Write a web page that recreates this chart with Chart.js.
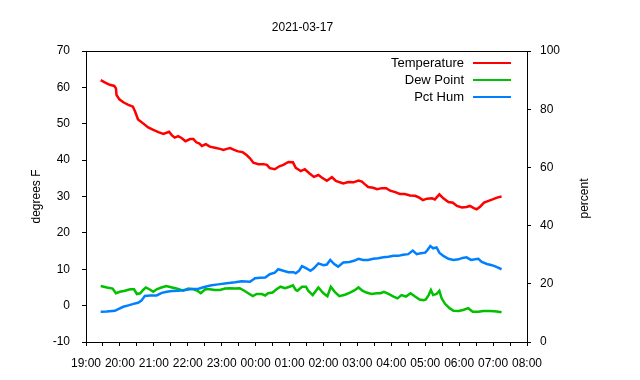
<!DOCTYPE html>
<html><head><meta charset="utf-8">
<script src="https://cdn.jsdelivr.net/npm/chart.js@4.4.0/dist/chart.umd.min.js"></script>
<style>html,body{margin:0;padding:0;background:#fff;}#wrap{width:640px;height:380px;}</style>
</head><body><div id="wrap"><canvas id="c" width="640" height="380"></canvas></div>
<script>
const chartTitle = '2021-03-17';
const leftAxisTitle = 'degrees F';
const rightAxisTitle = 'percent';
const seriesNames = ['Temperature', 'Dew Point', 'Pct Hum'];
const xTickLabels = ['19:00','20:00','21:00','22:00','23:00','00:00','01:00','02:00','03:00','04:00','05:00','06:00','07:00','08:00'];

const tempTimes = ['19:26','19:34','19:42','19:50','19:53','19:54','19:59','20:06','20:15','20:23','20:27','20:32','20:41','20:50','20:59','21:08','21:17','21:27','21:32','21:37','21:43','21:49','21:56','22:04','22:10','22:15','22:20','22:25','22:32','22:39','22:48','22:57','23:03','23:09','23:15','23:22','23:29','23:37','23:44','23:50','23:56','00:05','00:14','00:20','00:25','00:34','00:42','00:49','00:58','01:06','01:11','01:17','01:20','01:27','01:35','01:43','01:51','01:57','02:06','02:15','02:22','02:29','02:35','02:44','02:53','03:02','03:08','03:13','03:19','03:28','03:35','03:43','03:51','03:58','04:07','04:15','04:24','04:33','04:42','04:48','04:56','05:03','05:12','05:17','05:25','05:32','05:41','05:49','05:56','06:05','06:13','06:19','06:26','06:31','06:37','06:44','06:52','06:59','07:07','07:15'];
const tempValues = [62.0,61.3,60.7,60.4,59.7,57.9,56.7,55.9,55.2,54.7,53.3,51.2,50.1,49.0,48.3,47.7,47.2,47.8,46.8,46.2,46.6,46.1,45.2,45.8,45.8,44.9,44.6,43.9,44.4,43.7,43.4,43.1,42.8,43.1,43.3,42.8,42.4,42.2,41.4,40.5,39.3,38.9,38.9,38.7,37.8,37.5,38.3,38.7,39.5,39.4,37.9,37.3,37.0,37.5,36.4,35.4,35.9,35.2,34.3,35.3,34.3,33.9,33.6,34.0,33.9,34.4,34.1,33.4,32.6,32.4,32.0,32.3,32.3,31.6,31.2,30.7,30.7,30.3,30.2,29.8,29.0,29.4,29.5,29.2,30.6,29.5,28.5,28.3,27.4,27.0,27.1,27.4,26.8,26.5,27.2,28.3,28.8,29.2,29.7,30.0];

const dewTimes = ['19:26','19:37','19:47','19:53','20:00','20:09','20:18','20:25','20:30','20:36','20:41','20:46','20:52','20:59','21:05','21:12','21:22','21:32','21:40','21:52','22:01','22:10','22:17','22:23','22:31','22:39','22:48','22:57','23:06','23:15','23:24','23:32','23:40','23:47','23:55','00:02','00:11','00:17','00:22','00:30','00:37','00:44','00:52','01:00','01:06','01:11','01:14','01:22','01:29','01:33','01:41','01:51','02:00','02:07','02:13','02:20','02:28','02:38','02:47','02:56','03:02','03:09','03:16','03:25','03:34','03:41','03:47','03:55','04:04','04:11','04:18','04:26','04:34','04:42','04:50','04:57','05:01','05:06','05:10','05:14','05:20','05:25','05:29','05:35','05:43','05:50','05:59','06:07','06:16','06:24','06:34','06:43','06:55','07:07','07:15'];
const dewValues = [5.4,5.0,4.7,3.4,3.8,4.1,4.5,4.5,3.2,3.4,4.3,5.0,4.5,3.8,4.5,4.9,5.4,5.0,4.7,4.1,4.7,4.5,4.1,3.4,4.5,4.5,4.3,4.3,4.7,4.8,4.7,4.8,4.1,3.4,2.6,3.2,3.2,2.8,3.4,3.6,4.5,5.2,4.8,5.2,5.6,4.3,4.1,5.2,5.2,4.1,2.9,5.0,3.4,2.6,5.2,3.8,2.6,3.0,3.6,4.3,5.0,4.1,3.6,3.2,3.4,3.4,3.8,3.2,2.5,2.0,2.9,2.5,3.4,2.5,1.7,1.5,1.7,2.9,4.3,2.9,3.2,4.1,2.0,0.5,-0.7,-1.4,-1.5,-1.2,-0.7,-1.7,-1.7,-1.5,-1.5,-1.6,-1.8];

const humTimes = ['19:26','19:37','19:51','19:57','20:06','20:15','20:24','20:32','20:38','20:44','20:53','21:05','21:14','21:23','21:32','21:43','21:55','22:07','22:19','22:31','22:42','22:54','23:09','23:24','23:35','23:50','23:59','00:08','00:17','00:25','00:34','00:40','00:49','00:58','01:07','01:11','01:17','01:22','01:30','01:37','01:43','01:51','02:00','02:06','02:12','02:19','02:26','02:35','02:46','02:54','03:02','03:10','03:19','03:28','03:37','03:46','03:55','04:04','04:12','04:21','04:30','04:38','04:45','04:52','05:00','05:04','05:09','05:14','05:20','05:25','05:32','05:41','05:50','05:59','06:06','06:13','06:21','06:28','06:34','06:40','06:49','06:58','07:07','07:15'];
const humValues = [10.4,10.5,10.7,11.3,12.1,12.6,13.1,13.5,14.2,15.8,16.0,16.0,16.9,17.3,17.5,17.6,17.9,18.2,18.3,19.0,19.5,19.8,20.2,20.5,20.9,20.7,21.9,22.1,22.2,23.3,23.8,25.0,24.5,24.0,24.0,23.6,24.5,26.1,25.3,24.5,25.3,27.0,26.4,26.6,28.2,26.8,25.9,27.3,27.5,27.9,28.6,28.2,28.2,28.6,28.8,29.1,29.3,29.6,29.6,30.0,30.2,31.4,30.2,30.5,30.7,31.6,33.0,32.2,32.5,30.7,29.6,28.6,28.2,28.4,28.9,29.1,28.2,28.4,28.6,27.5,26.8,26.4,25.7,25.0];

const seriesColors = ['#ff0000', '#00c000', '#0080ff'];

function toMin(s) { const p = s.split(':').map(Number); return ((p[0] - 19 + 24) % 24) * 60 + p[1]; }
function pts(times, vals) { return times.map((t, i) => ({x: toMin(t), y: vals[i]})); }

const FONT = '"Liberation Sans", Arial, sans-serif';

const overlay = {
  id: 'overlay',
  afterDraw(chart) {
    const ctx = chart.ctx, ca = chart.chartArea;
    ctx.save();
    ctx.strokeStyle = '#000'; ctx.lineWidth = 1;
    ctx.beginPath();
    ctx.moveTo(Math.round(ca.left) + 0.5, Math.round(ca.top) + 0.5);
    ctx.lineTo(Math.round(ca.right) + 0.5, Math.round(ca.top) + 0.5);
    ctx.stroke();
    ctx.fillStyle = '#000';
    ctx.font = '12px ' + FONT;
    ctx.textAlign = 'center'; ctx.textBaseline = 'middle';
    ctx.fillText(chartTitle, (ca.left + ca.right) / 2 - 4, 28);
    const midY = (ca.top + ca.bottom) / 2;
    ctx.save(); ctx.translate(37, midY); ctx.rotate(-Math.PI / 2); ctx.fillText(leftAxisTitle, 0, 0); ctx.restore();
    ctx.save(); ctx.translate(585, midY + 2); ctx.rotate(-Math.PI / 2); ctx.fillText(rightAxisTitle, 0, 0); ctx.restore();
    ctx.font = '13px ' + FONT;
    ctx.textAlign = 'right';
    chart.data.datasets.forEach((ds, i) => {
      const y = ca.top + 12 + i * 17;
      ctx.fillStyle = '#000';
      ctx.fillText(ds.label, ca.right - 63, y + 0.5);
      ctx.strokeStyle = ds.borderColor; ctx.lineWidth = 2;
      ctx.beginPath(); ctx.moveTo(ca.right - 54, y); ctx.lineTo(ca.right - 16, y); ctx.stroke();
    });
    ctx.restore();
  }
};

const tickFont = {family: FONT, size: 12};

new Chart(document.getElementById('c'), {
  type: 'line',
  data: {
    datasets: [
      {label: seriesNames[0], data: pts(tempTimes, tempValues), borderColor: seriesColors[0], yAxisID: 'y', order: 2},
      {label: seriesNames[1], data: pts(dewTimes, dewValues), borderColor: seriesColors[1], yAxisID: 'y', order: 1},
      {label: seriesNames[2], data: pts(humTimes, humValues), borderColor: seriesColors[2], yAxisID: 'y2', order: 0}
    ]
  },
  options: {
    responsive: false, animation: false, devicePixelRatio: 1,
    layout: {padding: {top: 51, left: 0, right: 0, bottom: 0}},
    elements: {line: {borderWidth: 2.5, tension: 0, fill: false}, point: {radius: 0}},
    plugins: {legend: {display: false}, title: {display: false}, tooltip: {enabled: false}},
    scales: {
      x: {
        type: 'linear', position: 'bottom', min: 0, max: 780,
        ticks: {stepSize: 30, autoSkip: false, maxRotation: 0, minRotation: 0, color: '#000', font: tickFont, padding: 10,
          callback: v => (v % 60 === 0 ? xTickLabels[v / 60] : '')},
        grid: {drawOnChartArea: false, tickLength: 4, color: '#000'},
        border: {color: '#000', width: 1},
        afterFit: s => { s.height = 38; }
      },
      y: {
        type: 'linear', position: 'left', min: -10, max: 70,
        ticks: {stepSize: 10, color: '#000', font: tickFont, padding: 12},
        grid: {drawOnChartArea: false, tickLength: 4, color: '#000'},
        border: {color: '#000', width: 1},
        afterFit: s => { s.width = 86; }
      },
      y2: {
        type: 'linear', position: 'right', min: 0, max: 100,
        ticks: {stepSize: 20, color: '#000', font: tickFont, padding: 9},
        grid: {drawOnChartArea: false, tickLength: 4, color: '#000'},
        border: {color: '#000', width: 1},
        afterFit: s => { s.width = 113; }
      }
    }
  },
  plugins: [overlay]
});
</script></body></html>
